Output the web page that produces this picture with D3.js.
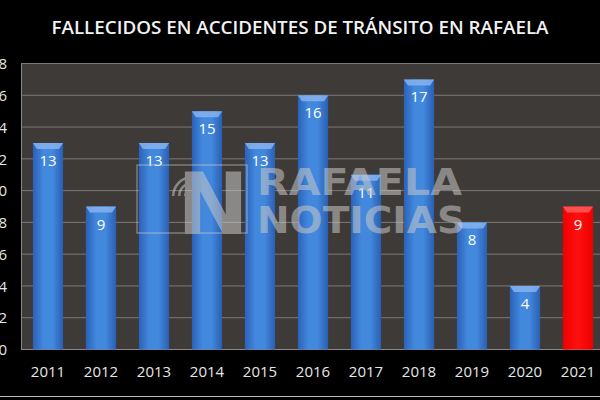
<!DOCTYPE html>
<html><head><meta charset="utf-8">
<script src="https://cdn.jsdelivr.net/npm/d3@7"></script>
<style>html,body{margin:0;padding:0;background:#000;}svg{display:block;}</style>
</head><body>
<svg id="c" width="600" height="400"></svg>
<script>
const years = ["2011","2012","2013","2014","2015","2016","2017","2018","2019","2020","2021"];
const deaths = [13,9,13,15,13,16,11,17,8,4,9];
const highlightYear = "2021";
const yTicks = [0,2,4,6,8,10,12,14,16,18];
const title = "FALLECIDOS EN ACCIDENTES DE TRÁNSITO EN RAFAELA";

const svg = d3.select("#c");
const W = 600, H = 400;
svg.append("rect").attr("width", W).attr("height", H).attr("fill", "#000");

const m = {left: 21.5, top: 63.5, bottom: 349.5};
const plotRight = 604.5;
const x = d3.scaleBand().domain(years).range([m.left, plotRight]).paddingInner(0.43).paddingOuter(0.215);
const y = d3.scaleLinear().domain([0, 18]).range([m.bottom, m.top]);

const defs = svg.append("defs");
function grad(id, stops) {
  const g = defs.append("linearGradient").attr("id", id).attr("x1", "0").attr("x2", "1").attr("y1", "0").attr("y2", "0");
  stops.forEach(s => g.append("stop").attr("offset", s[0]).attr("stop-color", s[1]));
}
grad("gBlue", [[0, "#2b62b8"], [0.35, "#4288dd"], [0.65, "#4288dd"], [1, "#2a5fb2"]]);
grad("gRed", [[0, "#f00000"], [0.5, "#ff1010"], [1, "#ee0000"]]);

// plot area
svg.append("rect").attr("x", m.left).attr("y", m.top).attr("width", plotRight - m.left).attr("height", m.bottom - m.top)
  .attr("fill", "#3d3a37").attr("stroke", "#8a8a8a").attr("stroke-width", 1);

// gridlines
svg.append("g").selectAll("line").data(yTicks.filter(t => t > 0)).join("line")
  .attr("x1", m.left).attr("x2", plotRight)
  .attr("y1", d => y(d)).attr("y2", d => y(d))
  .attr("stroke", "#7d7a77").attr("stroke-width", 1);

// y axis labels (cropped at the left edge, as in the reference)
const yAxis = d3.axisLeft(y).tickValues(yTicks).tickSize(0).tickPadding(0);
const ga = svg.append("g").attr("transform", `translate(7,0)`).call(yAxis);
ga.select(".domain").remove();
ga.selectAll("text").attr("fill", "#e6e6e6").attr("font-family", "Open Sans, sans-serif").attr("font-size", 15).attr("dy", "0.35em");

// x axis labels
const xAxis = d3.axisBottom(x).tickSize(0).tickPadding(0);
const gx = svg.append("g").attr("transform", `translate(0,${m.bottom + 17})`).call(xAxis);
gx.select(".domain").remove();
gx.selectAll("text").attr("fill", "#e6e6e6").attr("font-family", "Open Sans, sans-serif").attr("font-size", 15).attr("dy", "0.71em");

// bars
const data = years.map((yr, i) => ({yr, v: deaths[i]}));
const bars = svg.append("g").selectAll("g").data(data).join("g");
bars.append("rect")
  .attr("x", d => x(d.yr)).attr("y", d => y(d.v))
  .attr("width", x.bandwidth()).attr("height", d => y(0) - y(d.v))
  .attr("fill", d => d.yr === highlightYear ? "url(#gRed)" : "url(#gBlue)");
bars.append("polygon")
  .attr("points", d => {
    const x0 = x(d.yr), x1 = x0 + x.bandwidth(), t = y(d.v);
    return `${x0},${t} ${x1},${t} ${x1 - 4},${t + 6} ${x0 + 4},${t + 6}`;
  })
  .attr("fill", d => d.yr === highlightYear ? "#ff5a5a" : "#86b3ee").attr("opacity", 0.85);
bars.append("text")
  .attr("x", d => x(d.yr) + x.bandwidth() / 2).attr("y", d => y(d.v) + 23)
  .attr("text-anchor", "middle").attr("fill", "#ffffff")
  .attr("font-family", "Open Sans, sans-serif").attr("font-size", 15)
  .text(d => d.v);

// watermark
const wm = svg.append("g").attr("opacity", 0.55);
wm.append("rect").attr("x", 137).attr("y", 165).attr("width", 110).attr("height", 68)
  .attr("fill", "none").attr("stroke", "#d0d0d0").attr("stroke-width", 1.2);
wm.append("text").attr("x", 213).attr("y", 234).attr("text-anchor", "middle")
  .attr("font-family", "DejaVu Sans, sans-serif").attr("font-weight", "bold").attr("font-size", 86)
  .attr("fill", "#c8c8c8").text("N");
[8, 14, 20].forEach(r => {
  wm.append("path").attr("d", d3.arc()({innerRadius: r - 2.5, outerRadius: r, startAngle: -Math.PI / 2, endAngle: 0}))
    .attr("transform", "translate(192,196)").attr("fill", "#c8c8c8");
});
wm.append("text").attr("x", 257).attr("y", 195).attr("font-family", "DejaVu Sans, sans-serif")
  .attr("font-weight", "bold").attr("font-size", 38).attr("fill", "#c8c8c8")
  .attr("textLength", 205).attr("lengthAdjust", "spacingAndGlyphs").text("RAFAELA");
wm.append("text").attr("x", 257).attr("y", 233).attr("font-family", "DejaVu Sans, sans-serif")
  .attr("font-weight", "bold").attr("font-size", 38).attr("fill", "#c8c8c8")
  .attr("textLength", 208).attr("lengthAdjust", "spacingAndGlyphs").text("NOTICIAS");

// title
svg.append("text").attr("x", 300).attr("y", 34).attr("text-anchor", "middle")
  .attr("font-family", "Open Sans, sans-serif").attr("font-weight", 600).attr("font-size", 18).attr("fill", "#f2f2f2")
  .attr("textLength", 497).attr("lengthAdjust", "spacingAndGlyphs").text(title);

svg.append("line").attr("x1", 0).attr("x2", W).attr("y1", 396.5).attr("y2", 396.5).attr("stroke", "#bbb").attr("stroke-width", 1);
</script>
</body></html>
